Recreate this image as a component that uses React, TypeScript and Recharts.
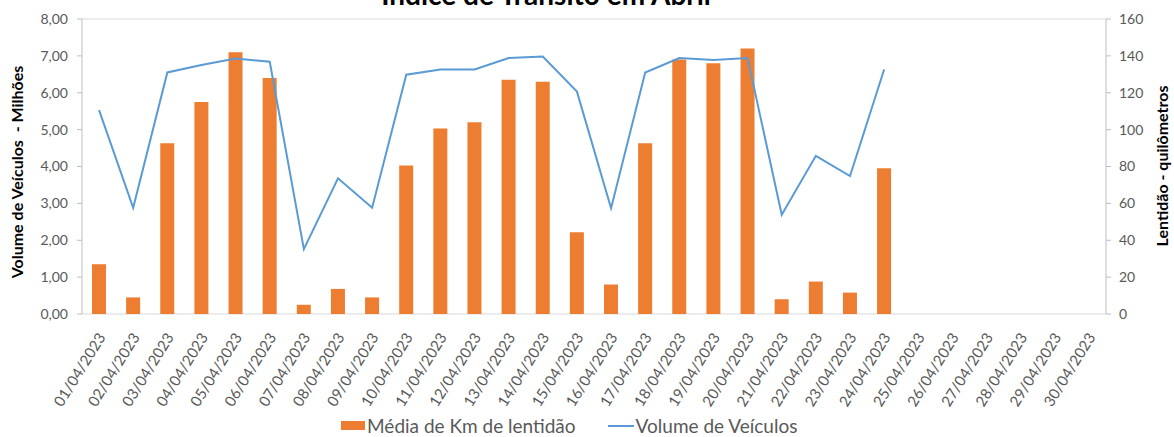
import { ComposedChart, Bar, Line, XAxis, YAxis, CartesianGrid, Legend } from 'recharts';

const dates = [
  '01/04/2023', '02/04/2023', '03/04/2023', '04/04/2023', '05/04/2023', '06/04/2023',
  '07/04/2023', '08/04/2023', '09/04/2023', '10/04/2023', '11/04/2023', '12/04/2023',
  '13/04/2023', '14/04/2023', '15/04/2023', '16/04/2023', '17/04/2023', '18/04/2023',
  '19/04/2023', '20/04/2023', '21/04/2023', '22/04/2023', '23/04/2023', '24/04/2023',
  '25/04/2023', '26/04/2023', '27/04/2023', '28/04/2023', '29/04/2023', '30/04/2023',
];

// km de lentidão (eixo direito)
const lentidaoKm = [
  27, 9, 92.6, 115, 142, 128, 5, 13.6, 9, 80.6, 100.6, 104,
  127, 126, 44.4, 16, 92.6, 138, 136, 144, 8, 17.6, 11.6, 79,
];

// volume de veículos em milhões (eixo esquerdo)
const volumeMilhoes = [
  5.53, 2.88, 6.55, 6.75, 6.93, 6.84, 1.76, 3.68, 2.88, 6.49, 6.63, 6.63,
  6.94, 6.98, 6.03, 2.87, 6.55, 6.94, 6.89, 6.94, 2.69, 4.29, 3.74, 6.63,
];

const leftTicks = [0, 1, 2, 3, 4, 5, 6, 7, 8];
const rightTicks = [0, 20, 40, 60, 80, 100, 120, 140, 160];
const boundaryTicks = dates.map((_, i) => i).concat(dates.length);

const data = dates.map((d, i) => ({
  date: d,
  km: lentidaoKm[i] ?? null,
  volume: volumeMilhoes[i] ?? null,
}));

const FONT = 'Lato, "Liberation Sans", sans-serif';
const GRAY = '#595959';

const DateTick = (props: any) => {
  const { x, y, payload } = props;
  const ax = x + 2;
  const ay = y + 12;
  return (
    <text
      x={ax}
      y={ay}
      textAnchor="end"
      fontSize={15}
      fontFamily={FONT}
      fill={GRAY}
      transform={`rotate(-58, ${ax}, ${ay})`}
      dominantBaseline="central"
    >
      {payload.value}
    </text>
  );
};

const renderLegend = () => (
  <div style={{ display: 'flex', justifyContent: 'flex-start', paddingLeft: 341, fontFamily: FONT, fontSize: 19, color: GRAY, alignItems: 'center', height: 23 }}>
    <span style={{ display: 'inline-block', width: 24, height: 9, background: '#ED7D31', marginRight: 2 }} />
    <span>Média de Km de lentidão</span>
    <span style={{ display: 'inline-block', width: 26, height: 2, background: '#5B9BD5', marginLeft: 32, marginRight: 2 }} />
    <span>Volume de Veículos</span>
  </div>
);

export default function App() {
  return (
    <div style={{ position: 'absolute', left: 0, top: 0, background: '#fff' }}>
      <ComposedChart
        width={1174}
        height={437}
        data={data}
        margin={{ top: 19, right: 0, bottom: 0, left: 0 }}
      >
        <CartesianGrid vertical={false} stroke="#d9d9d9" />
        <XAxis
          xAxisId="bounds"
          type="number"
          domain={[0, dates.length]}
          ticks={boundaryTicks}
          tick={false}
          tickSize={6}
          height={0}
          stroke="#bfbfbf"
          allowDataOverflow
        />
        <XAxis
          xAxisId="cat"
          dataKey="date"
          interval={0}
          tick={<DateTick />}
          tickLine={false}
          axisLine={false}
          height={100}
        />
        <YAxis
          yAxisId="left"
          domain={[0, 8]}
          ticks={leftTicks}
          tickFormatter={(v: number) => v.toFixed(2).replace('.', ',')}
          width={82}
          tickSize={5}
          tickMargin={9}
          stroke="#bfbfbf"
          tick={{ fill: GRAY, fontSize: 14, fontFamily: FONT }}
        />
        <YAxis
          yAxisId="right"
          orientation="right"
          domain={[0, 160]}
          ticks={rightTicks}
          width={68}
          tickSize={5}
          tickMargin={8}
          stroke="#bfbfbf"
          tick={{ fill: GRAY, fontSize: 14, fontFamily: FONT }}
        />
        <Bar
          xAxisId="cat"
          yAxisId="right"
          dataKey="km"
          name="Média de Km de lentidão"
          fill="#ED7D31"
          barSize={14}
          isAnimationActive={false}
        />
        <Line
          xAxisId="cat"
          yAxisId="left"
          dataKey="volume"
          name="Volume de Veículos"
          stroke="#5B9BD5"
          strokeWidth={2}
          dot={false}
          type="linear"
          isAnimationActive={false}
        />
        <Legend verticalAlign="bottom" height={23} content={renderLegend} />
        <text x={546} y={5} textAnchor="middle" fontFamily={FONT} fontWeight="bold" fontSize={28} fill="#000">
          Índice de Trânsito em Abril
        </text>
        <text
          x={23}
          y={172}
          textAnchor="middle"
          fontFamily={FONT}
          fontWeight="bold"
          fontSize={16}
          fill="#000"
          style={{ whiteSpace: 'pre' }}
          transform="rotate(-90, 23, 172)"
        >
          Volume de Veículos  - Milhões
        </text>
        <text
          x={1168}
          y={166}
          textAnchor="middle"
          fontFamily={FONT}
          fontWeight="bold"
          fontSize={16}
          fill="#000"
          transform="rotate(-90, 1168, 166)"
        >
          Lentidão - quilômetros
        </text>
      </ComposedChart>
    </div>
  );
}
